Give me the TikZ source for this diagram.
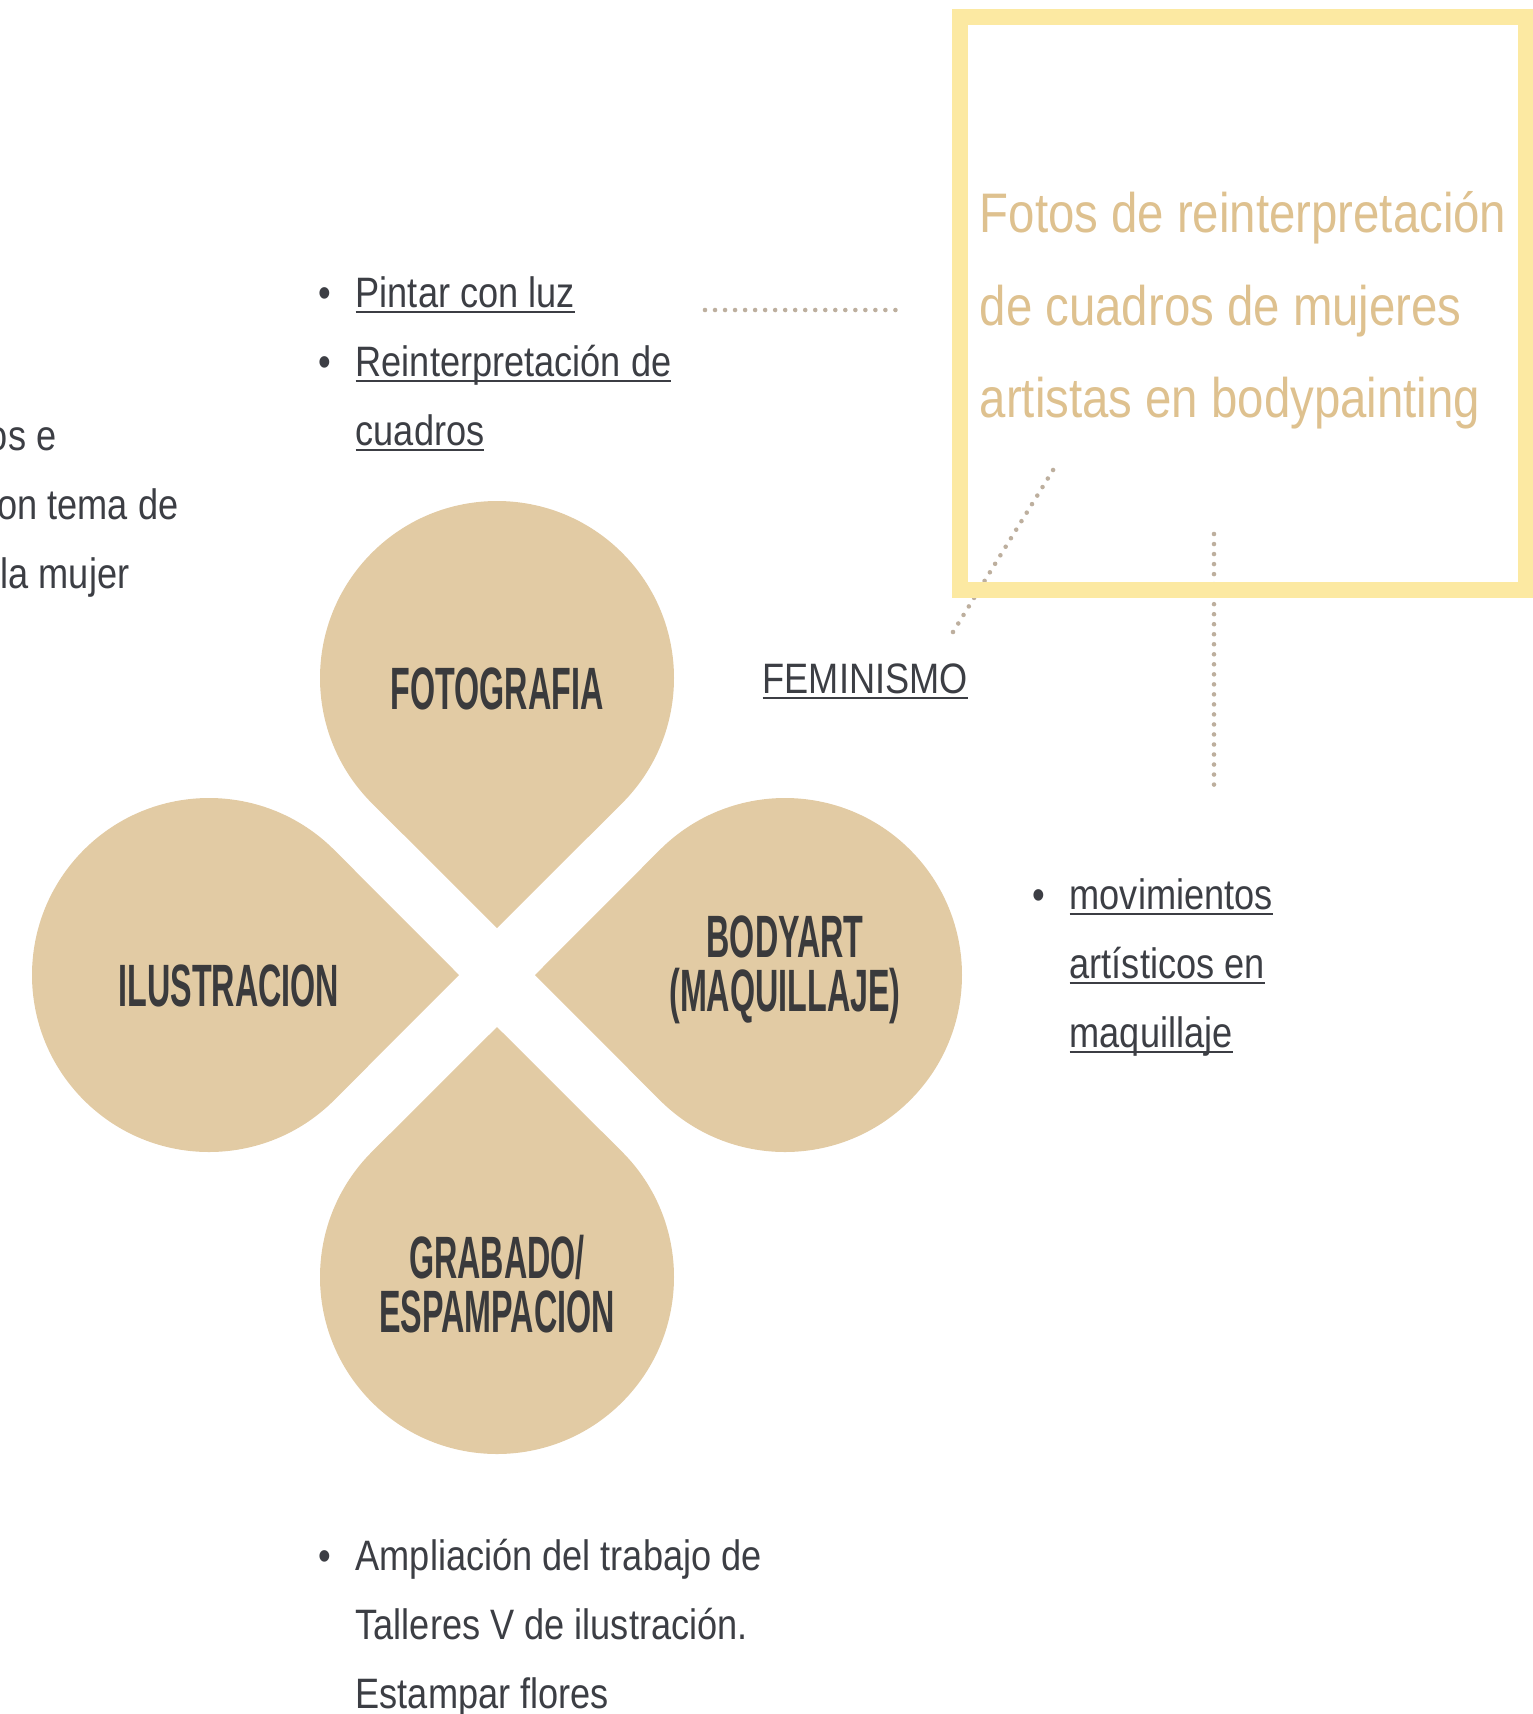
\documentclass[tikz,border=0pt]{standalone}
\usepackage{fontspec}
\setmainfont{Liberation Sans}[FakeStretch=0.85]
\newfontfamily\petalfont{Liberation Sans}[FakeStretch=0.54]
\usetikzlibrary{backgrounds}

\definecolor{textdark}{HTML}{3C3E44}
\definecolor{labeldark}{HTML}{3A3A3C}
\definecolor{petaltan}{HTML}{E2CBA4}
\definecolor{boxyellow}{HTML}{FCE9A2}
\definecolor{boxtan}{HTML}{DEC18F}
\definecolor{dotgray}{HTML}{BDAF9E}

\begin{document}
\begin{tikzpicture}[x=0.01cm, y=-0.01cm,
  petal/.style={fill=petaltan},
  petallabel/.style={font=\petalfont\bfseries\fontsize{17}{15.2}\selectfont, text=labeldark, align=center, inner sep=0pt},
  bodytext/.style={font=\fontsize{12.1}{19.6}\selectfont, text=textdark, inner sep=0pt, anchor=base west},
  bulletdot/.style={bodytext, anchor=base},
  fotobox/.style={draw=boxyellow, line width=4.55pt, minimum width=5.66cm, minimum height=5.73cm, inner sep=0pt},
  boxtext/.style={font=\fontsize{15.85}{26.5}\selectfont, text=boxtan, inner sep=0pt, anchor=base west},
  dotline/.style={draw=dotgray, line width=1.3pt, line cap=round, dash pattern=on 0pt off 2.85pt}]
  \useasboundingbox (0,0) rectangle (1533,1714);
  \clip (0,0) rectangle (1533,1714);

  % petal: centre x, centre y, direction of the tip
  \def\petal(#1,#2,#3){%
    \fill[petal, shift={(#1,#2)}] (#3:250) -- (#3+45:177)
      arc[start angle=#3+45, end angle=#3+315, radius=177] -- cycle;}
  % underlined text
  \def\linkline#1{\setbox0=\hbox{#1}\rlap{\color{textdark}\rule[-1.8pt]{\wd0}{0.8pt}}\box0}

  % the four petals
  \petal(497,678,90)
  \petal(497,1277,-90)
  \petal(209,975,0)
  \petal(785,975,180)

  % petal labels
  \node[petallabel] (foto) at (497,689) {FOTOGRAFIA};
  \node[petallabel] (ilus) at (229,986) {ILUSTRACION};
  \node[petallabel] (body) at (785,970) {BODYART\\(MAQUILLAJE)};
  \node[petallabel] (grab) at (497,1284) {GRABADO/\\ESPAMPACION};

  % text cut by the left edge
  \node[bodytext, anchor=base east] (left1) at (57,450) {os e};
  \node[bodytext, anchor=base east] (left2) at (179,519) {on tema de};
  \node[bodytext, anchor=base east] (left3) at (130,588) {la mujer};

  % list above FOTOGRAFIA
  \node[bulletdot] (b1) at (325,307) {•};
  \node[bodytext] (pintar) at (355,307) {\linkline{Pintar con luz}};
  \node[bulletdot] (b2) at (325,376) {•};
  \node[bodytext] (reint1) at (355,376) {\linkline{Reinterpretación de}};
  \node[bodytext] (reint2) at (355,445) {\linkline{cuadros}};

  % FEMINISMO
  \node[bodytext] (femi) at (762,693) {\linkline{FEMINISMO}};

  % list beside BODYART
  \node[bulletdot] (b3) at (1039,909) {•};
  \node[bodytext] (movi1) at (1069,909) {\linkline{movimientos}};
  \node[bodytext] (movi2) at (1069,978) {\linkline{artísticos en}};
  \node[bodytext] (movi3) at (1069,1047) {\linkline{maquillaje}};

  % list below GRABADO
  \node[bulletdot] (b4) at (325,1570) {•};
  \node[bodytext] (ampl1) at (355,1570) {Ampliación del trabajo de};
  \node[bodytext] (ampl2) at (355,1639) {Talleres V de ilustración.};
  \node[bodytext] (ampl3) at (355,1708) {Estampar flores};

  % yellow box
  \node[fotobox] (box) at (1243,303.5) {};
  \node[boxtext] (fotos1) at (979,232) {Fotos de reinterpretación};
  \node[boxtext] (fotos2) at (979,325) {de cuadros de mujeres};
  \node[boxtext] (fotos3) at (979,417) {artistas en bodypainting};

  % dotted connectors
  \coordinate (h1) at (705,310);
  \coordinate (h2) at (905,310);
  \coordinate (d1) at (953,632);
  \coordinate (d2) at (1058,462);
  \coordinate (v1) at (1214,534);
  \coordinate (v2) at (1214,785);
  \begin{scope}[on background layer]
    \draw[dotline] (h1) -- (h2);
    \draw[dotline] (d1) -- (d2);
    \draw[dotline] (v1) -- (v2);
  \end{scope}
\end{tikzpicture}
\end{document}
